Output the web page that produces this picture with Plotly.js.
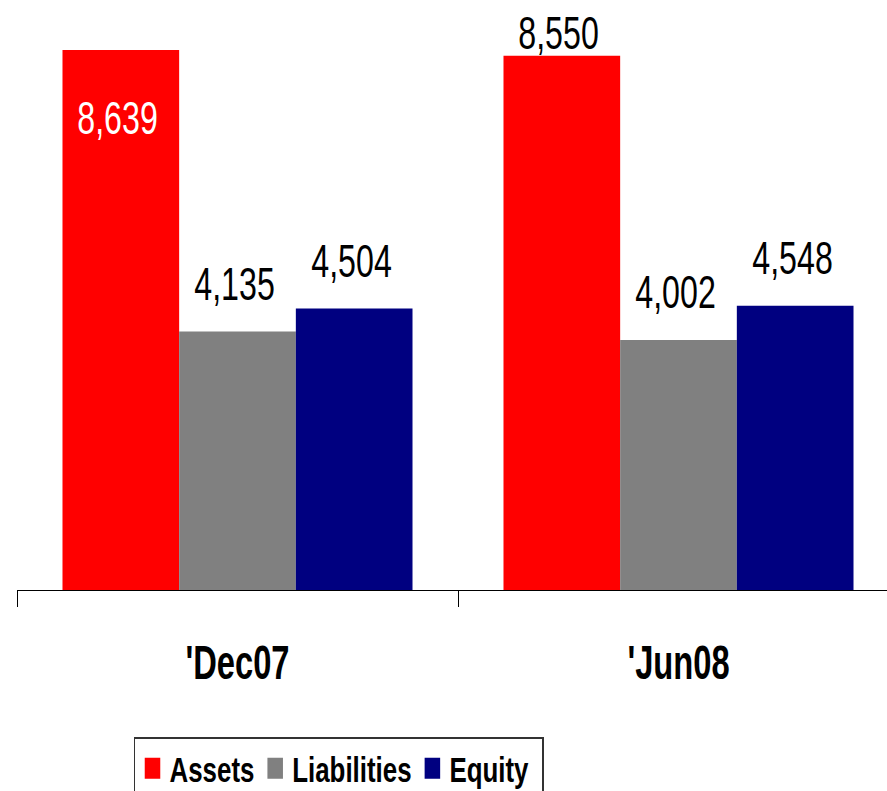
<!DOCTYPE html>
<html>
<head>
<meta charset="utf-8">
<script src="https://cdn.plot.ly/plotly-3.0.1.min.js"></script>
<style>
html,body{margin:0;padding:0;background:#fff;}
#chart{width:887px;height:791px;}
</style>
</head>
<body>
<div id="chart"></div>
<script>
// ---- data ----
var categories = ["'Dec07", "'Jun08"];
var seriesNames = ["Assets", "Liabilities", "Equity"];
var assets = [8639, 8550];
var liabilities = [4135, 4002];
var equity = [4504, 4548];

// ---- styling ----
var colors = ["#FF0000", "#808080", "#000080"];
var FONT = "'Liberation Sans', Arial, sans-serif";
var yMax = 9440;
var bargap = 0.2063;
var plotH = 590;
var unitsPerPx = yMax / plotH;

var values = [assets, liabilities, equity];
var traces = [];
values.forEach(function (vals, i) {
  traces.push({
    type: 'bar', x: categories, y: vals, name: seriesNames[i],
    marker: {color: colors[i], line: {width: 0}},
    showlegend: false, hoverinfo: 'x+y'
  });
});
// legend entries
values.forEach(function (vals, i) {
  traces.push({
    type: 'scatter', mode: 'markers', x: [null], y: [null], name: seriesNames[i],
    marker: {symbol: 'square', size: 16, color: colors[i], line: {width: 5, color: colors[i]}},
    showlegend: true, hoverinfo: 'skip'
  });
});

// value labels
var annotations = [];
var barW = (1 - bargap) / 3;
var limit = yMax - 33 * unitsPerPx;
values.forEach(function (vals, i) {
  vals.forEach(function (v, j) {
    var xPos = j + (i - 1) * barW;
    var yPos, color = '#000';
    var above = v + 48 * unitsPerPx;
    if (above <= limit) { yPos = above; }
    else if (v + 20 * unitsPerPx <= limit) { yPos = limit; }
    else { yPos = v - 68 * unitsPerPx; color = '#fff'; }
    annotations.push({
      x: xPos, y: yPos, xref: 'x', yref: 'y',
      text: v.toLocaleString('en-US'), showarrow: false,
      xanchor: 'center', yanchor: 'middle', xshift: -3,
      font: {family: FONT, size: 46, color: color}
    });
  });
});

var layout = {
  width: 887, height: 791,
  margin: {l: 17, r: 0, t: 0, b: 201, pad: 0},
  paper_bgcolor: '#fff', plot_bgcolor: '#fff',
  barmode: 'group', bargap: bargap, bargroupgap: 0,
  xaxis: {
    type: 'category', range: [-0.5, 1.4728],
    showline: true, linecolor: '#000', linewidth: 1,
    ticks: 'outside', tickson: 'boundaries', ticklen: 16, tickcolor: '#000', tickwidth: 1,
    ticklabelstandoff: 29,
    tickfont: {family: FONT, size: 49, color: '#000', weight: 'bold'},
    showgrid: false, zeroline: false, fixedrange: true
  },
  yaxis: {
    range: [0, yMax], visible: false, showgrid: false, zeroline: false, fixedrange: true
  },
  showlegend: true,
  legend: {
    orientation: 'h', xref: 'paper', x: (134 - 17) / 870, xanchor: 'left',
    yref: 'container', y: (791 - 737) / 791, yanchor: 'top',
    bgcolor: '#fff', bordercolor: '#333', borderwidth: 2, itemwidth: 36,
    font: {family: FONT, size: 35, color: '#000', weight: 'bold'},
    itemclick: false, itemdoubleclick: false
  },
  annotations: annotations
};

// narrow-face emulation: compress text horizontally about its own centre
function condense(el, s) {
  var bb = el.getBBox();
  var cx = bb.x + bb.width / 2;
  var t = el.getAttribute('transform') || '';
  el.setAttribute('transform', t + ' translate(' + cx + ',0) scale(' + s + ',1) translate(' + (-cx) + ',0)');
}

Plotly.newPlot('chart', traces, layout, {displayModeBar: false, staticPlot: true}).then(function (gd) {
  gd.querySelectorAll('.annotation-text').forEach(function (el) { condense(el, 0.70); });
  gd.querySelectorAll('.xtick text').forEach(function (el) { condense(el, 0.667); });
  var lg = gd.querySelector('g.legend');
  if (lg) {
    lg.setAttribute('transform', (lg.getAttribute('transform') || '') + ' scale(0.74,1)');
    // widen the frame slightly to match the right-hand padding of the original box
    var bg = lg.querySelector('rect.bg');
    if (bg) {
      var w = parseFloat(bg.getAttribute('width'));
      bg.setAttribute('width', w + 13);
    }
  }
});
</script>
</body>
</html>
